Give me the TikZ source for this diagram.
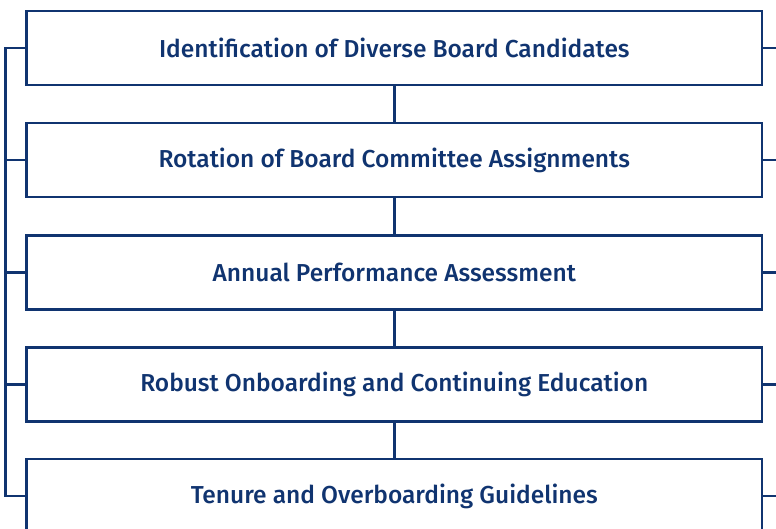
\documentclass[tikz,border=0pt]{standalone}
\usepackage{fontspec}
\setmainfont{Fira Sans}[UprightFont = * Medium]
\definecolor{navy}{RGB}{16,52,112}
\begin{document}
\begin{tikzpicture}[x=1pt,y=-1pt,
  line width=2.8pt, draw=navy,
  boxstyle/.style={draw=navy, line width=2.8pt, fill=white, minimum width=735.5pt, minimum height=74pt, inner sep=0pt, text=navy, font=\fontsize{24.5}{28}\selectfont},
  link/.style={draw=navy, line width=2.8pt}]
\useasboundingbox (0,0) rectangle (776,529);
\clip (0,0) rectangle (776,529);
\node[boxstyle] (b1) at (394.3,48) {Identification of Diverse Board Candidates};
\node[boxstyle] (b2) at (394.3,160) {Rotation of Board Committee Assignments};
\node[boxstyle] (b3) at (394.3,272.5) {Annual Performance Assessment};
\node[boxstyle] (b4) at (394.3,384.5) {Robust Onboarding and Continuing Education};
\node[boxstyle] (b5) at (394.3,496) {Tenure and Overboarding Guidelines};
\coordinate (lt) at (5.5,48);
\coordinate (lb) at (5.5,496);
\coordinate (rr) at (776,0);
\draw[link] (b1.south) -- (b2.north);
\draw[link] (b2.south) -- (b3.north);
\draw[link] (b3.south) -- (b4.north);
\draw[link] (b4.south) -- (b5.north);
\draw[link, line join=miter] (b1.west) -- (lt) -- (lb) -- (b5.west);
\draw[link] (b2.west) -- (b2.west -| lt);
\draw[link] (b3.west) -- (b3.west -| lt);
\draw[link] (b4.west) -- (b4.west -| lt);
\foreach \b in {b1,b2,b3,b4,b5} { \draw[link] (\b.east) -- (\b.east -| rr); }
\end{tikzpicture}
\end{document}
